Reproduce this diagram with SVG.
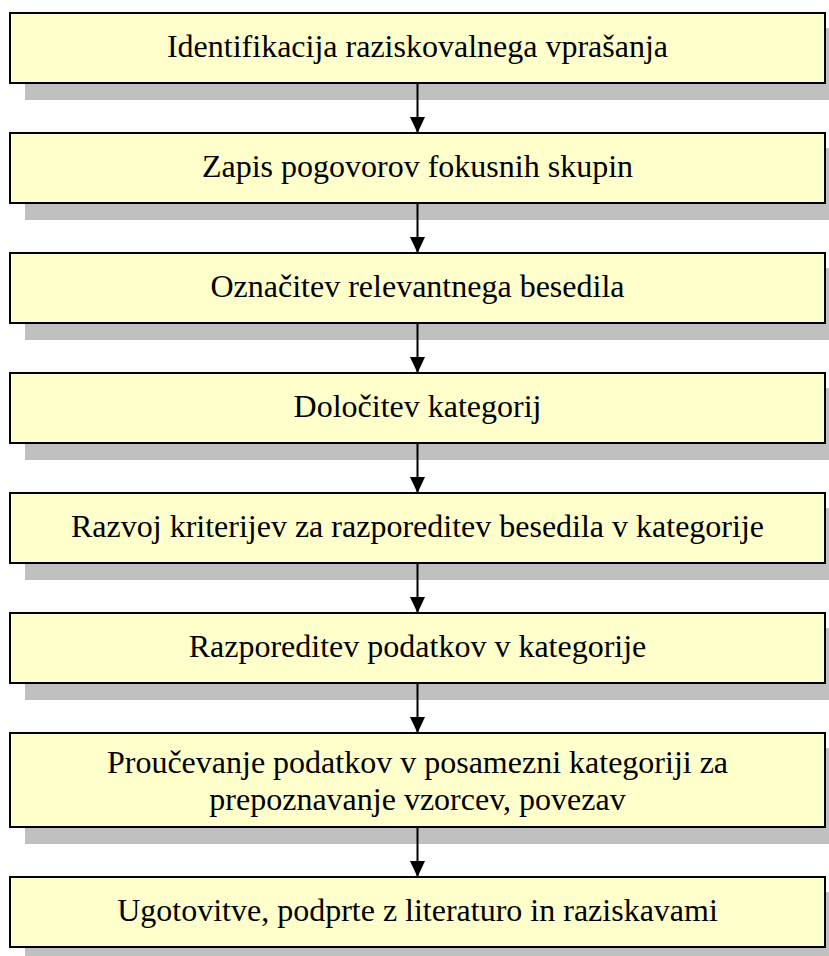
<svg xmlns="http://www.w3.org/2000/svg" width="829" height="956" viewBox="0 0 829 956">
  <defs>
    <style>
      .shadow { fill: #C0C0C0; }
      .box { fill: #FFFFCC; stroke: #000000; stroke-width: 2; }
      .label { font-family: "Liberation Serif", "Times New Roman", serif; font-size: 32px; fill: #000000; text-anchor: middle; }
      .edge { stroke: #000000; stroke-width: 2; fill: none; }
    </style>
    <marker id="arrow" markerWidth="16" markerHeight="17" refX="16" refY="8" orient="auto" markerUnits="userSpaceOnUse" viewBox="0 0 17 16">
      <path d="M0,0 L17,8 L0,16 Z" fill="#000000"/>
    </marker>
  </defs>
  <rect width="829" height="956" fill="#FFFFFF"/>

  <g id="step1">
    <rect class="shadow" x="25" y="28" width="817" height="72"/>
    <rect class="box" x="10" y="13" width="815" height="70"/>
    <text class="label" x="417.5" y="57">Identifikacija raziskovalnega vprašanja</text>
  </g>
  <g id="step2">
    <rect class="shadow" x="25" y="148" width="817" height="72"/>
    <rect class="box" x="10" y="133" width="815" height="70"/>
    <text class="label" x="417.5" y="177">Zapis pogovorov fokusnih skupin</text>
  </g>
  <g id="step3">
    <rect class="shadow" x="25" y="268" width="817" height="72"/>
    <rect class="box" x="10" y="253" width="815" height="70"/>
    <text class="label" x="417.5" y="297">Označitev relevantnega besedila</text>
  </g>
  <g id="step4">
    <rect class="shadow" x="25" y="388" width="817" height="72"/>
    <rect class="box" x="10" y="373" width="815" height="70"/>
    <text class="label" x="417.5" y="417">Določitev kategorij</text>
  </g>
  <g id="step5">
    <rect class="shadow" x="25" y="508" width="817" height="72"/>
    <rect class="box" x="10" y="493" width="815" height="70"/>
    <text class="label" x="417.5" y="537">Razvoj kriterijev za razporeditev besedila v kategorije</text>
  </g>
  <g id="step6">
    <rect class="shadow" x="25" y="628" width="817" height="72"/>
    <rect class="box" x="10" y="613" width="815" height="70"/>
    <text class="label" x="417.5" y="657">Razporeditev podatkov v kategorije</text>
  </g>
  <g id="step7">
    <rect class="shadow" x="25" y="748" width="817" height="96"/>
    <rect class="box" x="10" y="733" width="815" height="94"/>
    <text class="label" x="417.5" y="773">Proučevanje podatkov v posamezni kategoriji za</text>
    <text class="label" x="417.5" y="810">prepoznavanje vzorcev, povezav</text>
  </g>
  <g id="step8">
    <rect class="shadow" x="25" y="892" width="817" height="72"/>
    <rect class="box" x="10" y="877" width="815" height="70"/>
    <text class="label" x="417.5" y="921">Ugotovitve, podprte z literaturo in raziskavami</text>
  </g>

  <g id="connectors">
    <line class="edge" x1="417.5" y1="84" x2="417.5" y2="132" marker-end="url(#arrow)"/>
    <line class="edge" x1="417.5" y1="204" x2="417.5" y2="252" marker-end="url(#arrow)"/>
    <line class="edge" x1="417.5" y1="324" x2="417.5" y2="372" marker-end="url(#arrow)"/>
    <line class="edge" x1="417.5" y1="444" x2="417.5" y2="492" marker-end="url(#arrow)"/>
    <line class="edge" x1="417.5" y1="564" x2="417.5" y2="612" marker-end="url(#arrow)"/>
    <line class="edge" x1="417.5" y1="684" x2="417.5" y2="732" marker-end="url(#arrow)"/>
    <line class="edge" x1="417.5" y1="828" x2="417.5" y2="876" marker-end="url(#arrow)"/>
  </g>
</svg>
